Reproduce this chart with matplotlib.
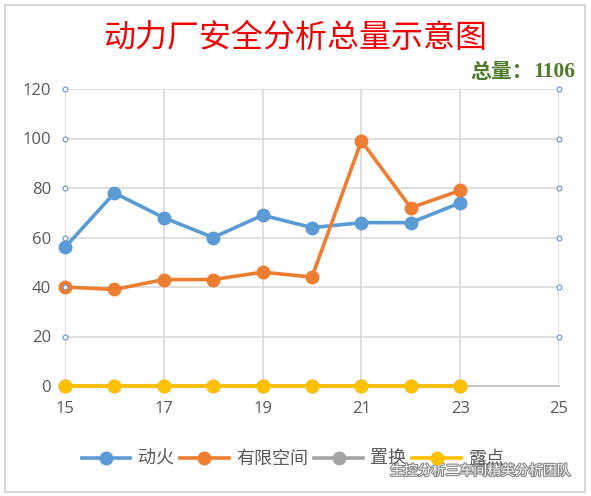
import matplotlib
matplotlib.use("Agg")
import matplotlib.pyplot as plt
import matplotlib.patheffects as pe
from matplotlib.patches import Rectangle

plt.rcParams['font.family'] = ['Noto Sans CJK SC', 'DejaVu Sans']

days = [15, 16, 17, 18, 19, 20, 21, 22, 23]
donghuo = [56, 78, 68, 60, 69, 64, 66, 66, 74]
youxian = [40, 39, 43, 43, 46, 44, 99, 72, 79]
zhihuan = [0, 0, 0, 0, 0, 0, 0, 0, 0]
ludian = [0, 0, 0, 0, 0, 0, 0, 0, 0]
series_names = ['动火', '有限空间', '置换', '露点']
colors = ['#5B9BD5', '#ED7D31', '#A5A5A5', '#FFC000']
xticks = [15, 17, 19, 21, 23, 25]
yticks = [0, 20, 40, 60, 80, 100, 120]
title = '动力厂安全分析总量示意图'
total_label = '总量：'
total_value = '1106'
watermark = '生控分析三车间精英分析团队'

fig = plt.figure(figsize=(5.91, 4.96), dpi=100)
fig.patches.append(Rectangle((0.009, 0.008), 0.981, 0.982, transform=fig.transFigure,
                             fill=False, edgecolor='#d0d0d0', linewidth=1.2))

ax = fig.add_axes([65/591, 1-386/496, 494/591, 297/496])
ax.set_xlim(15, 25)
ax.set_ylim(0, 120)
ax.set_xticks(xticks)
ax.set_yticks(yticks)
for s in ['left', 'right', 'top']:
    ax.spines[s].set_visible(False)
ax.spines['bottom'].set_color('#bfbfbf')
ax.spines['bottom'].set_linewidth(1.2)
ax.grid(True, color='#d9d9d9', linewidth=1.2)
ax.set_axisbelow(True)
ax.tick_params(length=0, labelsize=12, labelcolor='#595959')
ax.tick_params(axis='y', pad=10)
ax.tick_params(axis='x', pad=11)
for lab in ax.get_xticklabels() + ax.get_yticklabels():
    lab.set_fontfamily(['Open Sans', 'DejaVu Sans'])

data = [donghuo, youxian, zhihuan, ludian]
handles = []
for vals, c, n in zip(data, colors, series_names):
    h, = ax.plot(days, vals, color=c, linewidth=2.6, marker='o', markersize=9,
                 label=n, clip_on=False, zorder=3)
    handles.append(h)

# selection handles on gridlines
hy = yticks[1:]
ax.plot([15]*len(hy), hy, linestyle='none', marker='o', markersize=3.5,
        mfc='white', mec='#6a8fc8', mew=0.8, clip_on=False, zorder=5)
ax.plot([25]*len(hy), hy, linestyle='none', marker='o', markersize=3.5,
        mfc='white', mec='#6a8fc8', mew=0.8, clip_on=False, zorder=5)

fig.text(295/591, 1-38/496, title, color='#F00000', fontsize=23,
         ha='center', va='center', fontweight='normal')
fig.text(533/591, 1-72/496, total_label, color='#4F7A28', fontsize=15,
         ha='right', va='center', fontweight='bold')
fig.text(533/591, 1-72/496, total_value, color='#4F7A28', fontsize=15.5,
         ha='left', va='center', fontweight='bold',
         fontfamily=['Liberation Serif', 'DejaVu Serif'])

leg = fig.legend(handles=handles, loc='center', bbox_to_anchor=(293/591, 1-459/496),
                 ncol=4, frameon=False, fontsize=13, handlelength=2.7,
                 columnspacing=0.35, handletextpad=0.4, borderaxespad=0)
for t in leg.get_texts():
    t.set_color('#595959')

fig.text(390/591, 1-471/496, watermark, color='#f4f4f4', fontsize=10,
         ha='left', va='center',
         path_effects=[pe.withStroke(linewidth=1.6, foreground='#8a8a8a')])

fig.savefig('out.png', dpi=100)
